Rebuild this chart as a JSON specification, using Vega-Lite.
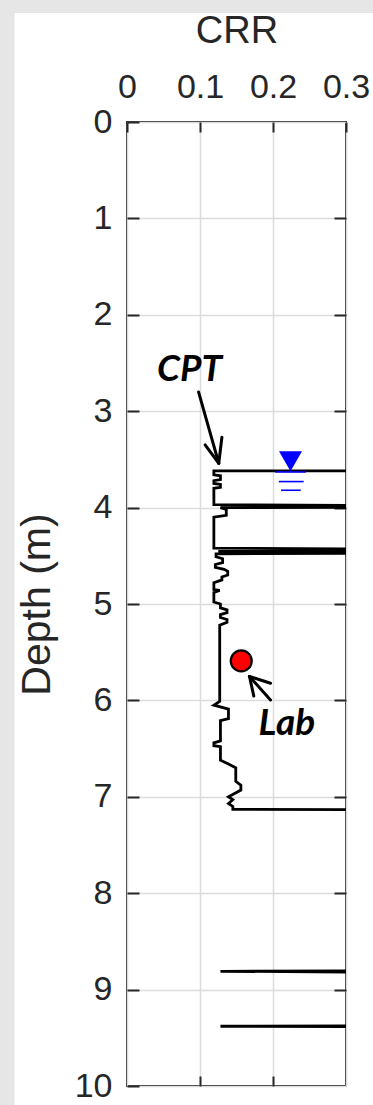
{
  "$schema": "https://vega.github.io/schema/vega-lite/v6.json",
  "width": 219,
  "height": 964,
  "autosize": {"type": "none"},
  "padding": {"left": 127, "top": 122, "right": 27, "bottom": 19},
  "background": "white",
  "config": {
    "view": {"stroke": "#262626", "strokeWidth": 2, "fill": "white"},
    "axis": {
      "labelFont": "Liberation Sans",
      "titleFont": "Liberation Sans",
      "labelFontSize": 34,
      "titleFontSize": 38,
      "titleFontWeight": "normal",
      "labelColor": "#262626",
      "titleColor": "#262626",
      "domain": false,
      "tickColor": "#262626",
      "tickWidth": 2,
      "gridColor": "#dcdcdc",
      "gridWidth": 1.5,
      "zindex": 1
    }
  },
  "datasets": {
    "profile": [
      {"i": 1, "crr": 0.6, "depth": 3.62},
      {"i": 2, "crr": 0.119, "depth": 3.62},
      {"i": 3, "crr": 0.119, "depth": 3.66},
      {"i": 4, "crr": 0.128, "depth": 3.67},
      {"i": 5, "crr": 0.128, "depth": 3.71},
      {"i": 6, "crr": 0.119, "depth": 3.72},
      {"i": 7, "crr": 0.119, "depth": 3.75},
      {"i": 8, "crr": 0.128, "depth": 3.76},
      {"i": 9, "crr": 0.128, "depth": 3.79},
      {"i": 10, "crr": 0.119, "depth": 3.8},
      {"i": 11, "crr": 0.119, "depth": 3.97},
      {"i": 12, "crr": 0.6, "depth": 3.99},
      {"i": 13, "crr": 0.128, "depth": 4.0},
      {"i": 14, "crr": 0.136, "depth": 4.02},
      {"i": 15, "crr": 0.136, "depth": 4.08},
      {"i": 16, "crr": 0.119, "depth": 4.1},
      {"i": 17, "crr": 0.119, "depth": 4.42},
      {"i": 18, "crr": 0.6, "depth": 4.445},
      {"i": 19, "crr": 0.125, "depth": 4.455},
      {"i": 20, "crr": 0.6, "depth": 4.465},
      {"i": 21, "crr": 0.122, "depth": 4.48},
      {"i": 22, "crr": 0.122, "depth": 4.51},
      {"i": 23, "crr": 0.131, "depth": 4.53},
      {"i": 24, "crr": 0.131, "depth": 4.57},
      {"i": 25, "crr": 0.121, "depth": 4.59},
      {"i": 26, "crr": 0.121, "depth": 4.62},
      {"i": 27, "crr": 0.133, "depth": 4.64},
      {"i": 28, "crr": 0.138, "depth": 4.66},
      {"i": 29, "crr": 0.138, "depth": 4.7},
      {"i": 30, "crr": 0.13, "depth": 4.72},
      {"i": 31, "crr": 0.13, "depth": 4.75},
      {"i": 32, "crr": 0.119, "depth": 4.78},
      {"i": 33, "crr": 0.119, "depth": 4.85},
      {"i": 34, "crr": 0.127, "depth": 4.86},
      {"i": 35, "crr": 0.119, "depth": 4.88},
      {"i": 36, "crr": 0.119, "depth": 4.98},
      {"i": 37, "crr": 0.128, "depth": 5.0},
      {"i": 38, "crr": 0.128, "depth": 5.04},
      {"i": 39, "crr": 0.137, "depth": 5.06},
      {"i": 40, "crr": 0.137, "depth": 5.09},
      {"i": 41, "crr": 0.128, "depth": 5.11},
      {"i": 42, "crr": 0.128, "depth": 5.14},
      {"i": 43, "crr": 0.137, "depth": 5.16},
      {"i": 44, "crr": 0.137, "depth": 5.19},
      {"i": 45, "crr": 0.127, "depth": 5.22},
      {"i": 46, "crr": 0.127, "depth": 6.01},
      {"i": 47, "crr": 0.119, "depth": 6.05},
      {"i": 48, "crr": 0.139, "depth": 6.09},
      {"i": 49, "crr": 0.139, "depth": 6.19},
      {"i": 50, "crr": 0.128, "depth": 6.21},
      {"i": 51, "crr": 0.128, "depth": 6.42},
      {"i": 52, "crr": 0.119, "depth": 6.44},
      {"i": 53, "crr": 0.119, "depth": 6.47},
      {"i": 54, "crr": 0.128, "depth": 6.48},
      {"i": 55, "crr": 0.128, "depth": 6.62},
      {"i": 56, "crr": 0.139, "depth": 6.66},
      {"i": 57, "crr": 0.149, "depth": 6.7},
      {"i": 58, "crr": 0.149, "depth": 6.84},
      {"i": 59, "crr": 0.156, "depth": 6.88},
      {"i": 60, "crr": 0.156, "depth": 6.93},
      {"i": 61, "crr": 0.139, "depth": 7.0},
      {"i": 62, "crr": 0.145, "depth": 7.03},
      {"i": 63, "crr": 0.139, "depth": 7.07},
      {"i": 64, "crr": 0.145, "depth": 7.1},
      {"i": 65, "crr": 0.145, "depth": 7.13},
      {"i": 66, "crr": 0.6, "depth": 7.14},
      {"i": 67, "crr": 0.6, "depth": 8.8},
      {"i": 68, "crr": 0.128, "depth": 8.81},
      {"i": 69, "crr": 0.6, "depth": 8.83},
      {"i": 70, "crr": 0.6, "depth": 9.37},
      {"i": 71, "crr": 0.128, "depth": 9.38},
      {"i": 72, "crr": 0.6, "depth": 9.39},
      {"i": 73, "crr": 0.6, "depth": 10.0}
    ],
    "water": [
      {"crr": 0.203, "crr2": 0.245, "depth": 3.63},
      {"crr": 0.208, "crr2": 0.242, "depth": 3.73},
      {"crr": 0.211, "crr2": 0.238, "depth": 3.82}
    ],
    "watertable": [{"crr": 0.224, "depth": 3.52}],
    "lab": [{"crr": 0.1565, "depth": 5.59}],
    "arrows": [
      {"crr": 0.098, "depth": 2.8, "crr2": 0.1257, "depth2": 3.54},
      {"crr": 0.1257, "depth": 3.54, "crr2": 0.107, "depth2": 3.35},
      {"crr": 0.1257, "depth": 3.54, "crr2": 0.13, "depth2": 3.27},
      {"crr": 0.1966, "depth": 5.996, "crr2": 0.1678, "depth2": 5.752},
      {"crr": 0.1678, "depth": 5.752, "crr2": 0.1737, "depth2": 5.955},
      {"crr": 0.1678, "depth": 5.752, "crr2": 0.1966, "depth2": 5.822}
    ],
    "labels": [
      {"text": "CPT", "crr": 0.0856, "depth": 2.57},
      {"text": "Lab", "crr": 0.219, "depth": 6.245}
    ]
  },
  "layer": [
    {
      "data": {"values": [{}]},
      "mark": {"type": "rect", "clip": false, "color": "#e6e6e6"},
      "encoding": {
        "x": {"datum": -1, "type": "quantitative", "scale": {"domain": [0, 0.3], "nice": false}, "axis": null},
        "x2": {"datum": -0.154},
        "y": {"datum": -3, "type": "quantitative", "scale": {"domain": [0, 10], "reverse": true, "nice": false}, "axis": null},
        "y2": {"datum": 12}
      }
    },
    {
      "data": {"values": [{}]},
      "mark": {"type": "rect", "clip": false, "color": "#e6e6e6"},
      "encoding": {
        "x": {"datum": -1, "type": "quantitative", "scale": {"domain": [0, 0.3], "nice": false}, "axis": null},
        "x2": {"datum": 1},
        "y": {"datum": -3, "type": "quantitative", "scale": {"domain": [0, 10], "reverse": true, "nice": false}, "axis": null},
        "y2": {"datum": -1.13}
      }
    },
    {
      "data": {"name": "profile"},
      "mark": {"type": "line", "clip": true, "color": "black", "strokeWidth": 2.8, "strokeJoin": "miter"},
      "encoding": {
        "x": {
          "field": "crr", "type": "quantitative",
          "scale": {"domain": [0, 0.3], "nice": false},
          "axis": {"orient": "top", "title": "CRR", "values": [0, 0.1, 0.2, 0.3], "format": "~g", "offset": -10, "tickSize": 10, "labelPadding": 18, "titlePadding": 20, "grid": true, "labelFlush": false}
        },
        "y": {
          "field": "depth", "type": "quantitative",
          "scale": {"domain": [0, 10], "reverse": true, "nice": false},
          "axis": {"orient": "left", "title": "Depth (m)", "titleFontSize": 41, "values": [0, 1, 2, 3, 4, 5, 6, 7, 8, 9, 10], "format": "d", "offset": -12, "tickSize": 12, "labelPadding": 15, "titlePadding": 16, "grid": true, "labelFlush": false}
        },
        "order": {"field": "i", "type": "quantitative"}
      }
    },
    {
      "data": {"name": "water"},
      "mark": {"type": "rule", "color": "#0000ff", "strokeWidth": 1.6},
      "encoding": {
        "x": {
          "field": "crr", "type": "quantitative",
          "scale": {"domain": [0, 0.3], "nice": false},
          "axis": {"orient": "bottom", "title": null, "labels": false, "values": [0.1, 0.2], "offset": -10, "tickSize": 10, "grid": false}
        },
        "x2": {"field": "crr2"},
        "y": {
          "field": "depth", "type": "quantitative",
          "scale": {"domain": [0, 10], "reverse": true, "nice": false},
          "axis": {"orient": "right", "title": null, "labels": false, "values": [1, 2, 3, 4, 5, 6, 7, 8, 9], "offset": -12, "tickSize": 12, "grid": false}
        }
      }
    },
    {
      "data": {"name": "watertable"},
      "mark": {"type": "point", "shape": "triangle-down", "filled": true, "color": "#0000ff", "size": 530, "opacity": 1},
      "encoding": {
        "x": {"field": "crr", "type": "quantitative", "scale": {"domain": [0, 0.3], "nice": false}, "axis": null},
        "y": {"field": "depth", "type": "quantitative", "scale": {"domain": [0, 10], "reverse": true, "nice": false}, "axis": null}
      }
    },
    {
      "data": {"name": "arrows"},
      "mark": {"type": "rule", "color": "black", "strokeWidth": 3, "strokeCap": "round"},
      "encoding": {
        "x": {"field": "crr", "type": "quantitative", "scale": {"domain": [0, 0.3], "nice": false}, "axis": null},
        "x2": {"field": "crr2"},
        "y": {"field": "depth", "type": "quantitative", "scale": {"domain": [0, 10], "reverse": true, "nice": false}, "axis": null},
        "y2": {"field": "depth2"}
      }
    },
    {
      "data": {"name": "lab"},
      "mark": {"type": "point", "shape": "circle", "filled": true, "fill": "#ff0000", "stroke": "black", "strokeWidth": 2.2, "size": 440, "opacity": 1},
      "encoding": {
        "x": {"field": "crr", "type": "quantitative", "scale": {"domain": [0, 0.3], "nice": false}, "axis": null},
        "y": {"field": "depth", "type": "quantitative", "scale": {"domain": [0, 10], "reverse": true, "nice": false}, "axis": null}
      }
    },
    {
      "data": {"name": "labels"},
      "mark": {"type": "text", "font": "Lato", "fontSize": 37, "fontWeight": "bold", "fontStyle": "italic", "color": "black", "align": "center", "baseline": "middle", "clip": false},
      "encoding": {
        "x": {"field": "crr", "type": "quantitative", "scale": {"domain": [0, 0.3], "nice": false}, "axis": null},
        "y": {"field": "depth", "type": "quantitative", "scale": {"domain": [0, 10], "reverse": true, "nice": false}, "axis": null},
        "text": {"field": "text"}
      }
    }
  ],
  "resolve": {"axis": {"x": "independent", "y": "independent"}}
}
